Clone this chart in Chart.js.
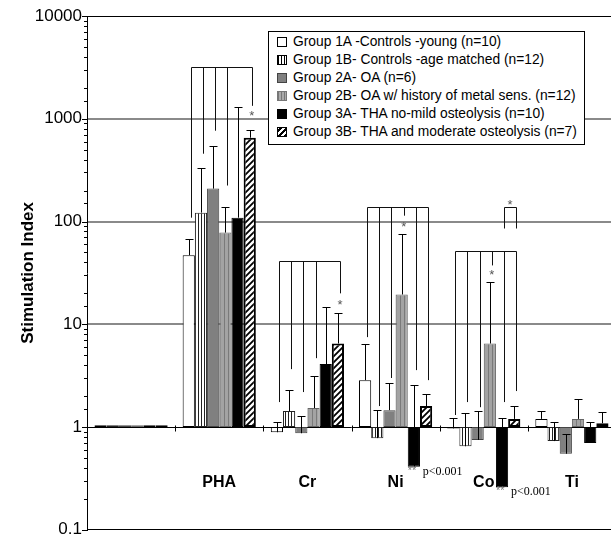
<!DOCTYPE html>
<html>
<head>
<meta charset="utf-8">
<script src="https://cdn.jsdelivr.net/npm/chart.js@4.4.0/dist/chart.umd.min.js"></script>
<style>
  html, body { margin: 0; padding: 0; background: #fff; overflow: hidden; }
  #wrap { position: relative; width: 611px; height: 537px; overflow: hidden; }
  #chart { position: absolute; left: 0; top: 0; }
  #legend {
    position: absolute; left: 268px; top: 31px; width: 315px; height: 111px;
    border: 1px solid #000; background: #fff; box-sizing: content-box;
    font: 13.8px "Liberation Sans", Arial, sans-serif; color: #000;
    padding-top: 1px;
  }
  #legend div { height: 18px; line-height: 18px; padding-left: 8px; white-space: nowrap; }
  #legend span.m {
    display: inline-block; width: 8px; height: 8px; border: 1px solid #000;
    margin-right: 6px; vertical-align: -1px; box-sizing: content-box;
  }
</style>
</head>
<body>
<div id="wrap">
  <canvas id="chart" width="617" height="545"></canvas>
  <div id="legend"></div>
</div>
<script>
const categories = ['', 'PHA', 'Cr', 'Ni', 'Co', 'Ti'];
const groupLabels = [
  'Group 1A -Controls -young (n=10)',
  'Group 1B- Controls -age matched (n=12)',
  'Group 2A- OA (n=6)',
  'Group 2B- OA w/ history of metal sens. (n=12)',
  'Group 3A- THA no-mild osteolysis (n=10)',
  'Group 3B- THA and moderate osteolysis (n=7)'
];

// mean stimulation index (first category is the unstimulated reference = 1)
const group1A = [1.04, 47, 0.89, 2.86, 0.97, 1.2];
const group1B = [1.04, 122, 1.43, 0.78, 0.65, 0.73];
const group2A = [1.04, 209, 0.87, 1.46, 0.75, 0.55];
const group2B = [1.04, 78, 1.53, 19.5, 6.5, 1.2];
const group3A = [1.04, 109, 4.1, 0.41, 0.26, 0.70];
const group3B = [1.04, 654, 6.5, 1.6, 1.2, 1.09];

// upper end of the error bars
const err1A = [null, 68, 1.12, 6.5, 1.22, 1.43];
const err1B = [null, 334, 2.28, 1.46, 1.37, 1.12];
const err2A = [null, 547, 1.28, 2.7, 1.43, 0.86];
const err2B = [null, 140, 3.12, 76, 25.6, 1.87];
const err3A = [null, 1308, 14.6, 2.56, 1.22, 1.12];
const err3B = [null, 782, 12.8, 2.09, 1.6, 1.4];

// significance brackets: category, bracket height, bars joined, where each leg stops
const brackets = [
  { cat: 1, top: 3200, bars: [0, 1, 2, 3, 5], ends: [109, 457, 765, 224, 1336], star: 5, starAt: 1120 },
  { cat: 2, top: 41, bars: [0, 1, 2, 3, 5], ends: [1.75, 3.66, 2.19, 4.68, 20], star: 5, starAt: 16.4 },
  { cat: 3, top: 140, bars: [0, 1, 2, 3, 4, 5], ends: [7.5, 1.6, 3.0, 114, 3.58, 2.86], star: 3, starAt: 93.5 },
  { cat: 4, top: 52, bars: [0, 1, 2, 3, 4, 5], ends: [1.31, 1.75, 1.56, 37.4, 1.75, 2.24], star: 3, starAt: 32 },
  { cat: 4, top: 137, bars: [4, 5], ends: [85.5, 85.5], star: 'mid', starAt: 153 }
];

// "** p<0.001" notes under the group 3A bar
const notes = [
  { cat: 3, bar: 4, text: 'p<0.001' },
  { cat: 4, bar: 4, text: 'p<0.001' }
];

const values = [group1A, group1B, group2A, group2B, group3A, group3B];
const errors = [err1A, err1B, err2A, err2B, err3A, err3B];

function makePattern(w, h, draw) {
  const c = document.createElement('canvas');
  c.width = w; c.height = h;
  const g = c.getContext('2d');
  draw(g, w, h);
  return g.createPattern(c, 'repeat');
}

const vStripes = makePattern(3, 4, (g) => {
  g.fillStyle = '#fff'; g.fillRect(0, 0, 3, 4);
  g.fillStyle = '#222'; g.fillRect(0, 0, 1, 4);
});
const grayStripes = makePattern(4, 4, (g) => {
  g.fillStyle = '#a3a3a3'; g.fillRect(0, 0, 4, 4);
  g.fillStyle = '#7a7a7a'; g.fillRect(0, 0, 1, 4);
});
const hatch = makePattern(6, 6, (g) => {
  g.fillStyle = '#fff'; g.fillRect(0, 0, 6, 6);
  g.strokeStyle = '#000'; g.lineWidth = 1.8;
  g.beginPath();
  g.moveTo(-1, 7); g.lineTo(7, -1);
  g.moveTo(-4, 4); g.lineTo(4, -4);
  g.moveTo(2, 10); g.lineTo(10, 2);
  g.stroke();
});

const fills = ['#fff', vStripes, '#808080', grayStripes, '#000', hatch];
const borders = ['#000', '#222', '#444', '#666', '#000', '#000'];
const borderWidths = [1, 1, 1, 1, 1, 2];

// html legend
const legendCss = [
  'background:#fff',
  'background:repeating-linear-gradient(90deg,#000 0 1px,#fff 1px 3px)',
  'background:#808080;border-color:#444',
  'background:repeating-linear-gradient(90deg,#777 0 1px,#aaa 1px 3px);border-color:#777',
  'background:#000',
  'background:repeating-linear-gradient(-45deg,#000 0 2px,#fff 2px 4px)'
];
const legendEl = document.getElementById('legend');
groupLabels.forEach((t, i) => {
  const row = document.createElement('div');
  const m = document.createElement('span');
  m.className = 'm';
  m.style.cssText = legendCss[i];
  row.appendChild(m);
  row.appendChild(document.createTextNode(t));
  legendEl.appendChild(row);
});

function isDecade(v) {
  const l = Math.log10(v);
  return Math.abs(l - Math.round(l)) < 1e-9;
}

const overlay = {
  id: 'overlay',
  beforeDatasetsDraw(chart) {
    const { ctx, chartArea, scales: { x, y } } = chart;
    const y1 = Math.round(y.getPixelForValue(1)) + 0.5;
    ctx.save();
    ctx.strokeStyle = '#000';
    ctx.lineWidth = 1;
    ctx.beginPath();
    ctx.moveTo(chartArea.left, y1);
    ctx.lineTo(chartArea.right, y1);
    for (let i = 0; i < categories.length - 1; i++) {
      const bx = Math.round((x.getPixelForValue(i) + x.getPixelForValue(i + 1)) / 2) + 0.5;
      ctx.moveTo(bx, y1 - 2);
      ctx.lineTo(bx, y1 + 4);
    }
    ctx.stroke();
    ctx.restore();
  },
  afterDatasetsDraw(chart) {
    const { ctx, scales: { x, y } } = chart;
    const barX = (ds, cat) => chart.getDatasetMeta(ds).data[cat].x;
    ctx.save();

    // error bars
    ctx.strokeStyle = '#000';
    ctx.lineWidth = 1;
    ctx.beginPath();
    errors.forEach((errs, ds) => {
      errs.forEach((e, cat) => {
        if (e == null) return;
        const cx = Math.round(barX(ds, cat)) + 0.5;
        const yA = y.getPixelForValue(values[ds][cat]);
        const yB = Math.round(y.getPixelForValue(e)) + 0.5;
        ctx.moveTo(cx, yA);
        ctx.lineTo(cx, yB);
        ctx.moveTo(cx - 4, yB);
        ctx.lineTo(cx + 4, yB);
      });
    });
    ctx.stroke();

    // brackets
    ctx.strokeStyle = '#111';
    ctx.beginPath();
    brackets.forEach(b => {
      const top = Math.round(y.getPixelForValue(b.top)) + 0.5;
      const xs = b.bars.map(i => Math.round(barX(i, b.cat)) + 2.5);
      ctx.moveTo(xs[0], top);
      ctx.lineTo(xs[xs.length - 1], top);
      xs.forEach((bx, k) => {
        ctx.moveTo(bx, top);
        ctx.lineTo(bx, y.getPixelForValue(b.ends[k]));
      });
    });
    ctx.stroke();

    // stars
    ctx.fillStyle = '#555';
    ctx.font = '13px "Liberation Sans", Arial, sans-serif';
    ctx.textAlign = 'center';
    ctx.textBaseline = 'middle';
    brackets.forEach(b => {
      let sx;
      if (b.star === 'mid') {
        sx = (barX(b.bars[0], b.cat) + barX(b.bars[1], b.cat)) / 2 + 2;
      } else {
        sx = barX(b.star, b.cat) + 2;
      }
      ctx.fillText('*', sx, y.getPixelForValue(b.starAt) + 3);
    });

    // category labels
    const y1 = y.getPixelForValue(1);
    ctx.fillStyle = '#000';
    ctx.font = 'bold 16px "Liberation Sans", Arial, sans-serif';
    categories.forEach((c, i) => {
      if (c) ctx.fillText(c, x.getPixelForValue(i), y1 + 56);
    });

    // notes
    notes.forEach(n => {
      const el = chart.getDatasetMeta(n.bar).data[n.cat];
      const left = el.x - el.width / 2;
      const ty = y.getPixelForValue(values[n.bar][n.cat]) + 4;
      ctx.textAlign = 'left';
      ctx.fillStyle = '#777';
      ctx.font = '11px "Liberation Sans", Arial, sans-serif';
      ctx.fillText('**', left, ty);
      ctx.fillStyle = '#000';
      ctx.font = '12px "Liberation Serif", "Times New Roman", serif';
      ctx.fillText(n.text, left + 15, ty + 1);
    });
    ctx.restore();
  },
  afterDraw(chart) {
    const { ctx, scales: { y } } = chart;
    ctx.save();
    ctx.strokeStyle = '#000';
    ctx.lineWidth = 1;
    ctx.beginPath();
    y.ticks.forEach(t => {
      const py = Math.round(y.getPixelForValue(t.value)) + 0.5;
      const len = isDecade(t.value) ? 5 : 3;
      ctx.moveTo(y.right - len, py);
      ctx.lineTo(y.right, py);
    });
    ctx.stroke();
    ctx.restore();
  }
};

Chart.defaults.font.family = '"Liberation Sans", Arial, sans-serif';
Chart.defaults.color = '#000';

new Chart(document.getElementById('chart'), {
  type: 'bar',
  data: {
    labels: categories,
    datasets: values.map((vals, i) => ({
      label: groupLabels[i],
      data: vals.map(v => [1, v]),
      backgroundColor: fills[i],
      borderColor: borders[i],
      borderWidth: borderWidths[i],
      borderSkipped: false
    }))
  },
  options: {
    responsive: false,
    animation: false,
    devicePixelRatio: 1,
    layout: { padding: { top: 16, bottom: 0, right: 1, left: 0 } },
    plugins: { legend: { display: false }, tooltip: { enabled: false } },
    datasets: { bar: { categoryPercentage: 0.83, barPercentage: 1.0 } },
    scales: {
      x: {
        type: 'category',
        grid: { display: false },
        ticks: { display: false },
        border: { display: true, color: '#000', width: 1 },
        afterFit(scale) { scale.height = 0; }
      },
      y: {
        type: 'logarithmic',
        min: 0.1,
        max: 10000,
        border: { display: true, color: '#000', width: 1 },
        grid: {
          drawTicks: false,
          color: ctx => {
            const v = ctx.tick.value;
            if (v === 10000) return '#000';
            if (v === 10 || v === 100 || v === 1000) return '#8a8a8a';
            return 'rgba(0,0,0,0)';
          },
          lineWidth: ctx => (ctx.tick.value === 10000 ? 1 : 2)
        },
        ticks: {
          padding: 5,
          font: { size: 17 },
          autoSkip: false,
          callback: v => (isDecade(v) ? String(v) : '')
        },
        title: {
          display: true,
          text: 'Stimulation Index',
          font: { size: 17, weight: 'bold' },
          padding: { top: 18, bottom: 0 }
        },
        afterFit(scale) { scale.width = 87; }
      }
    }
  },
  plugins: [overlay]
});
</script>
</body>
</html>
